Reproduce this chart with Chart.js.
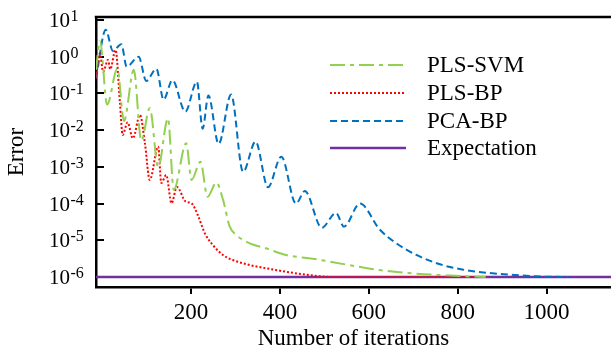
<!DOCTYPE html>
<html>
<head>
<meta charset="utf-8">
<script src="https://cdn.jsdelivr.net/npm/chart.js@4/dist/chart.umd.min.js"></script>
<style>
  body { margin: 0; background: #fff; }
  canvas { display: block; }
</style>
</head>
<body>
<canvas id="chart" width="611" height="353"></canvas>
<script>
'use strict';

// axis ranges and tick values
var xMin = -14;
var xMax = 1145;
var yMin = 5.35e-7;
var yMax = 12.1;
var xTickValues = [200, 400, 600, 800, 1000];
var yTickValues = [1e-6, 1e-5, 1e-4, 1e-3, 1e-2, 1e-1, 1, 10];

// series names
var seriesNames = ['PLS-SVM', 'PLS-BP', 'PCA-BP', 'Expectation'];

// PLS-SVM (green, dash-dot)
var svmIter = [-14, -5, 11, 34, 49, 71, 88, 107, 126, 148, 161, 189, 201, 221, 237, 257, 272,
  287, 302, 332, 369, 414, 474, 549, 624, 698, 773, 863];
var svmError = [0.44, 2.7, 0.050, 0.47, 0.0178, 0.44, 5.1e-3, 0.040, 9.9e-4, 0.021, 2.35e-4,
  4.4e-3, 4.4e-4, 1.39e-3, 1.54e-4, 3.76e-4, 1.25e-4, 2.35e-5, 1.39e-5, 8.3e-6, 6.05e-6,
  3.97e-6, 3.15e-6, 2.19e-6, 1.55e-6, 1.26e-6, 1.11e-6, 1.0e-6];

// PLS-BP (red, dotted)
var bpIter = [-14, -5, 2, 13, 18, 30, 40, 46, 57, 69, 85, 96, 107, 126, 133, 144, 156, 168,
  188, 201, 215, 231, 249, 272, 294, 332, 369, 414, 466, 519, 866];
var bpError = [0.26, 1.24, 0.39, 0.82, 0.46, 1.53, 0.054, 7.4e-3, 0.0162, 6.0e-3, 0.026,
  4.5e-3, 4.4e-4, 3.55e-3, 3.64e-4, 6.0e-4, 1.02e-4, 2.83e-4, 1.13e-4, 1.02e-4, 4.9e-5,
  1.55e-5, 7.4e-6, 3.97e-6, 2.9e-6, 2.12e-6, 1.73e-6, 1.39e-6, 1.13e-6, 1.0e-6, 1.0e-6];

// PCA-BP (blue, dashed)
var pcaIter = [-14, 8, 24, 43, 55, 82, 99, 122, 138, 158, 187, 213, 226, 239, 262, 290, 317,
  345, 373, 403, 436, 456, 494, 526, 544, 580, 624, 662, 707, 758, 810, 864, 931, 990, 1050];
var pcaError = [0.26, 5.4, 1.44, 2.2, 0.54, 1.0, 0.22, 0.47, 0.068, 0.23, 0.032, 0.21, 0.011,
  0.088, 0.0042, 0.094, 7.3e-4, 4.9e-3, 2.8e-4, 1.9e-3, 1.0e-4, 2.2e-4, 2.2e-5, 5.6e-5,
  2.35e-5, 1.0e-4, 2.0e-5, 8.3e-6, 4.0e-6, 2.26e-6, 1.6e-6, 1.31e-6, 1.13e-6, 1.03e-6, 1.0e-6];

// Expectation (purple, solid)
var expIter = [-14, 1145];
var expError = [1e-6, 1e-6];

var serif = '"Liberation Serif", "Times New Roman", "DejaVu Serif", serif';

function toPoints(xs, ys) {
  return xs.map(function (x, i) { return { x: x, y: ys[i] }; });
}

// power-of-ten labels on the y axis ("10" with a raised exponent)
var powerLabels = {
  id: 'powerLabels',
  afterDraw: function (chart) {
    var ctx = chart.ctx;
    var scale = chart.scales.y;
    ctx.save();
    ctx.fillStyle = '#000';
    ctx.textAlign = 'left';
    ctx.textBaseline = 'alphabetic';
    scale.ticks.forEach(function (t) {
      var py = scale.getPixelForValue(t.value);
      var exp = String(Math.round(Math.log10(t.value)));
      ctx.font = '21px ' + serif;
      ctx.fillText('10', 49, py + 7);
      ctx.font = '16px ' + serif;
      ctx.fillText(exp, 70.5, py + 1);
    });
    ctx.restore();
  }
};

// legend drawn inside the plot, plus the top frame line
var frameLegend = {
  id: 'frameLegend',
  afterDraw: function (chart) {
    var ctx = chart.ctx;
    var area = chart.chartArea;
    ctx.save();
    ctx.strokeStyle = '#000';
    ctx.lineWidth = 2.5;
    ctx.beginPath();
    ctx.moveTo(area.left - 1.25, area.top);
    ctx.lineTo(area.right, area.top);
    ctx.stroke();

    var rowY = [65, 93, 121, 148];
    ctx.font = '23px ' + serif;
    ctx.textBaseline = 'middle';
    ctx.textAlign = 'left';
    chart.data.datasets.forEach(function (ds, i) {
      ctx.strokeStyle = ds.borderColor;
      ctx.lineWidth = ds.borderWidth;
      ctx.setLineDash(ds.borderDash || []);
      ctx.beginPath();
      ctx.moveTo(330, rowY[i]);
      ctx.lineTo(406, rowY[i]);
      ctx.stroke();
      ctx.setLineDash([]);
      ctx.fillStyle = '#000';
      ctx.fillText(ds.label, 427, rowY[i] + 1);
    });
    ctx.restore();
  }
};

var common = { fill: false, pointRadius: 0, cubicInterpolationMode: 'monotone' };

var ctx = document.getElementById('chart').getContext('2d');
var chart = new Chart(ctx, {
  type: 'line',
  data: {
    datasets: [
      Object.assign({ label: seriesNames[0], data: toPoints(svmIter, svmError),
        borderColor: '#92d050', borderWidth: 2, borderDash: [15, 5, 4, 5] }, common),
      Object.assign({ label: seriesNames[1], data: toPoints(bpIter, bpError),
        borderColor: '#ff0000', borderWidth: 2, borderDash: [2, 2] }, common),
      Object.assign({ label: seriesNames[2], data: toPoints(pcaIter, pcaError),
        borderColor: '#0070c0', borderWidth: 2, borderDash: [7, 4] }, common),
      Object.assign({ label: seriesNames[3], data: toPoints(expIter, expError),
        borderColor: '#7030a0', borderWidth: 2.5 }, common)
    ]
  },
  options: {
    responsive: false,
    animation: false,
    layout: { padding: { top: 17, right: 0, left: 0, bottom: 0 } },
    plugins: {
      legend: { display: false },
      tooltip: { enabled: false }
    },
    scales: {
      x: {
        type: 'linear',
        min: xMin,
        max: xMax,
        afterBuildTicks: function (scale) {
          scale.ticks = xTickValues.map(function (v) { return { value: v }; });
        },
        afterFit: function (scale) {
          scale.height = 66;
          scale.paddingLeft = 0;
          scale.paddingRight = 0;
        },
        grid: { drawOnChartArea: false, drawTicks: true, tickLength: 7, color: '#000', lineWidth: 2 },
        border: { display: true, color: '#000', width: 2.5 },
        ticks: {
          color: '#000',
          font: { family: serif, size: 23 },
          padding: 5,
          maxRotation: 0,
          callback: function (value) { return String(value); }
        },
        title: { display: true, text: 'Number of iterations', color: '#000',
          font: { family: serif, size: 23 }, padding: { top: 0, bottom: 0 } }
      },
      y: {
        type: 'logarithmic',
        min: yMin,
        max: yMax,
        afterBuildTicks: function (scale) {
          scale.ticks = yTickValues.map(function (v) { return { value: v }; });
        },
        afterFit: function (scale) {
          scale.width = 96;
          scale.paddingTop = 0;
          scale.paddingBottom = 0;
        },
        grid: { drawOnChartArea: false, drawTicks: true, tickLength: -8, color: '#000', lineWidth: 2 },
        border: { display: true, color: '#000', width: 2.5 },
        ticks: { display: false },
        title: { display: true, text: 'Error', color: '#000',
          font: { family: serif, size: 23 }, padding: { top: 3, bottom: 0 } }
      }
    }
  },
  plugins: [powerLabels, frameLegend]
});
</script>
</body>
</html>
